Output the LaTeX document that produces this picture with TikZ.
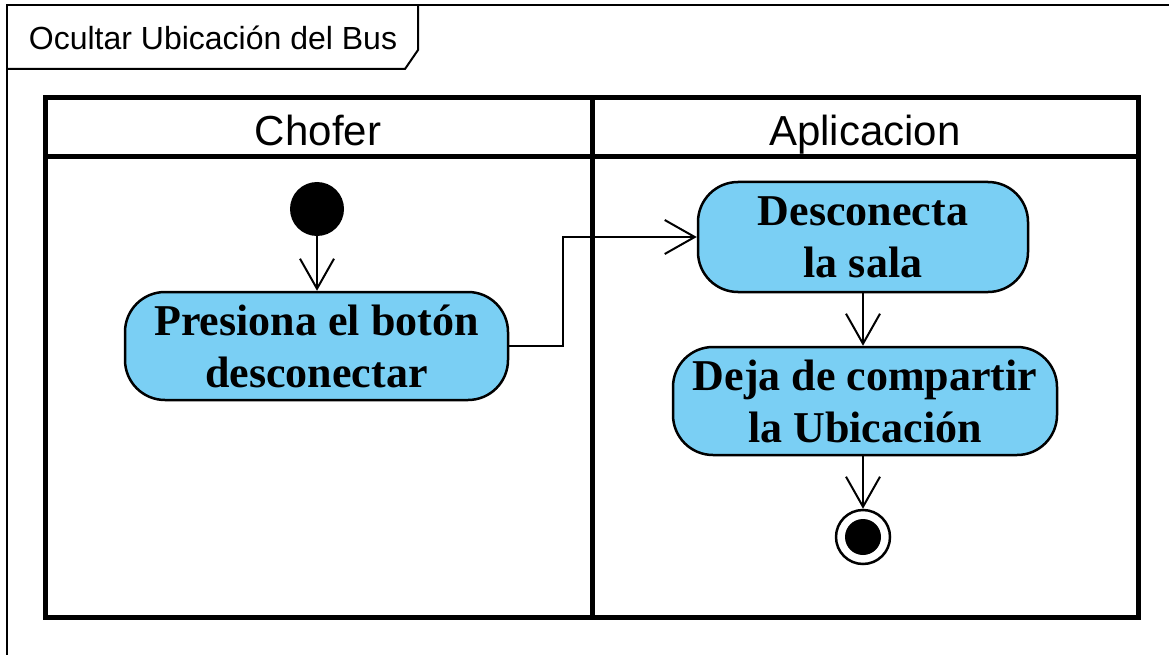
\documentclass[tikz,border=0pt]{standalone}
\usepackage{fontspec}
\setmainfont{Liberation Serif}
\newfontfamily\arialfont{Liberation Sans}
\usetikzlibrary{arrows.meta,calc}
\definecolor{actblue}{RGB}{122,207,244}
\tikzset{
  actbox/.style={draw=black, line width=2.5pt, fill=actblue, rounded corners=40pt,
    align=center, font=\fontsize{44}{52}\selectfont\bfseries, inner sep=0pt},
  flow/.style={draw=black, line width=2pt, -{Straight Barb[length=30pt,width=34pt,line width=2pt]}},
  lane/.style={line width=5pt},
  lanehead/.style={font=\arialfont\fontsize{42}{48}\selectfont, inner sep=0pt, anchor=base},
  framel/.style={line width=2pt}
}
\begin{document}
\begin{tikzpicture}[x=1pt,y=-1pt]
\useasboundingbox (0,0) rectangle (1169,655);
\fill[white] (0,0) rectangle (1169,655);
% frame
\draw[framel] (1169,5) -- (7,5) -- (7,655);
\draw[framel] (7,69) -- (405,69) -- (418,50) -- (418,5);
\node[font=\arialfont\fontsize{32}{36}\selectfont, inner sep=0pt, anchor=base] (title) at (213,50) {Ocultar Ubicación del Bus};
% swimlanes
\draw[lane] (45,98) rectangle (1138,617);
\draw[lane] (45,157) -- (1138,157);
\draw[lane] (592,98) -- (592,617);
\node[lanehead] (chofer) at (318,146) {Chofer};
\node[lanehead] (app) at (865,146) {Aplicacion};
% nodes
\node[circle, fill=black, minimum size=54pt, inner sep=0pt] (init) at (317,209) {};
\node[actbox, minimum width=383pt, minimum height=108pt] (pres) at (316.5,346) {Presiona el botón\\desconectar};
\node[actbox, minimum width=330pt, minimum height=110pt] (desc) at (863,237) {Desconecta\\la sala};
\node[actbox, minimum width=384pt, minimum height=108pt] (deja) at (865,401) {Deja de compartir\\la Ubicación};
\node[circle, draw=black, line width=2.5pt, fill=white, minimum size=54pt, inner sep=0pt] (fin) at (863,537) {};
\node[circle, fill=black, minimum size=36pt, inner sep=0pt] (fininner) at (fin.center) {};
% connectors
\draw[flow] (init) -- (init |- pres.north);
\coordinate (bend) at (563,346);
\draw[flow] (pres.east) -- (bend) |- (desc.west);
\draw[flow] (desc.south -| 863,0) -- (deja.north -| 863,0);
\draw[flow] (deja.south -| 863,0) -- (fin.north);
\end{tikzpicture}
\end{document}
